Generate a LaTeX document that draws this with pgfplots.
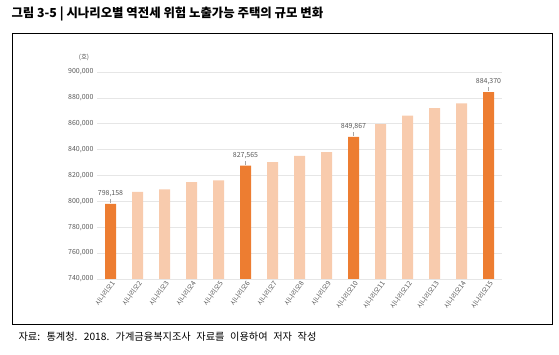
\documentclass[border=0pt]{standalone}
\usepackage{fontspec}
\setmainfont{Noto Sans CJK KR}
\usepackage{pgfplots}
\pgfplotsset{compat=1.18}
\definecolor{darkor}{HTML}{ED7D31}
\definecolor{lightor}{HTML}{F8CBAD}
\definecolor{tickgray}{HTML}{595959}
\definecolor{gridgray}{HTML}{E6E6E6}
\begin{document}
\begin{tikzpicture}[x=1pt,y=1pt]
\path[use as bounding box] (0,0) rectangle (559,355);
\node[anchor=west,font=\fontsize{12.4}{14}\selectfont\bfseries] at (8,341) {그림 3-5 | 시나리오별 역전세 위험 노출가능 주택의 규모 변화};
\draw[line width=0.9pt] (12,31) rectangle (552,322);
\node[anchor=west,font=\fontsize{10.2}{12}\selectfont] at (15,18) {\spaceskip=0.55em 자료: 통계청. 2018. 가계금융복지조사 자료를 이용하여 저자 작성};
\node[font=\fontsize{6.5}{7}\selectfont,text=tickgray] at (84,298) {(호)};
\begin{axis}[
  at={(97pt,76pt)}, anchor=south west,
  scale only axis, width=405pt, height=207pt,
  xmin=0.5, xmax=15.5, ymin=740000, ymax=900000,
  ytick={740000,760000,780000,800000,820000,840000,860000,880000,900000},
  yticklabels={{740,000},{760,000},{780,000},{800,000},{820,000},{840,000},{860,000},{880,000},{900,000}},
  xtick={1,...,15},
  xticklabels={시나리오1,시나리오2,시나리오3,시나리오4,시나리오5,시나리오6,시나리오7,시나리오8,시나리오9,시나리오10,시나리오11,시나리오12,시나리오13,시나리오14,시나리오15},
  x tick label style={rotate=55,anchor=north east,font=\fontsize{6.8}{7}\selectfont,text=tickgray,inner sep=0.5pt},
  y tick label style={font=\fontsize{7}{8}\selectfont,text=tickgray},
  scaled y ticks=false,
  axis line style={draw=none},
  major tick length=0pt,
  ymajorgrids, grid style={gridgray,line width=0.5pt},
  ybar, bar width=11pt, bar shift=0pt,
  clip=false,
]
\addplot[fill=lightor,draw=none] coordinates {
 (2,807400) (3,809300) (4,814900) (5,816200)
 (7,830300) (8,835200) (9,838100)
 (11,859800) (12,866200) (13,872000) (14,875700)};
\addplot[fill=darkor,draw=none,
  point meta=explicit symbolic,
  nodes near coords={\shortstack{\pgfplotspointmeta\\[-1pt]\textcolor{gray!70}{\rule{0.3pt}{4pt}}}},
  every node near coord/.append style={font=\fontsize{7}{8}\selectfont,text=tickgray,anchor=south,inner sep=1pt}]
 coordinates {
 (1,798158) [{798,158}] (6,827565) [{827,565}] (10,849867) [{849,867}] (15,884370) [{884,370}]};
\end{axis}
\end{tikzpicture}
\end{document}
